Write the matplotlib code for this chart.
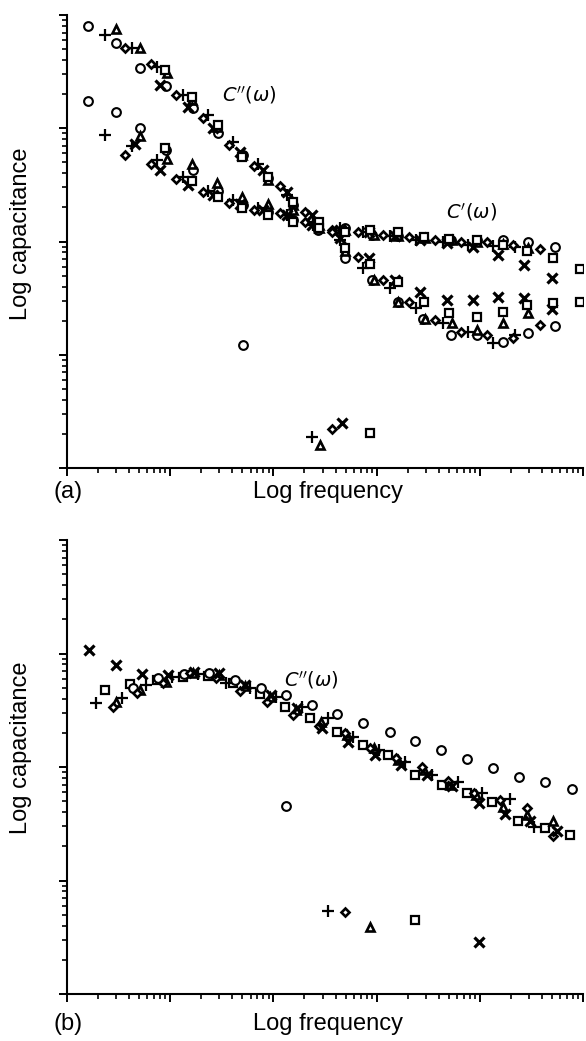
import numpy as np
import matplotlib
matplotlib.use('Agg')
import matplotlib.pyplot as plt
from matplotlib.ticker import LogLocator, NullFormatter

plt.rcParams['font.family'] = ['Liberation Sans', 'DejaVu Sans']
plt.rcParams['mathtext.fontset'] = 'dejavusans'

# ---- panel (a): log10 frequency / log10 capacitance, C'' (upper) and C' (lower) ----
a_circ_f = [0.20, 0.47, 0.71, 0.96, 1.22, 1.46, 1.71, 1.95, 2.19, 2.43, 2.69, 2.96, 3.21, 3.45, 3.72, 3.97, 4.22, 4.47, 4.73]
a_circ_c2 = [3.90, 3.75, 3.53, 3.37, 3.18, 2.96, 2.76, 2.56, 2.32, 2.10, 1.85, 1.66, 1.47, 1.32, 1.17, 1.17, 1.11, 1.19, 1.25]
a_circ_c1 = [3.24, 3.14, 3.00, 2.81, 2.63, 2.45, 2.32, 2.26, 2.19, 2.14, 2.12, 2.06, 2.05, 2.03, 2.01, 2.01, 2.01, 2.00, 1.95]

a_plus_f = [0.37, 0.63, 0.87, 1.12, 1.37, 1.61, 1.85, 2.13, 2.38, 2.65, 2.87, 3.13, 3.38, 3.64, 3.89, 4.13, 4.34]
a_plus_c2 = [3.82, 3.71, 3.54, 3.29, 3.12, 2.88, 2.68, 2.41, 2.17, 2.01, 1.77, 1.59, 1.41, 1.28, 1.20, 1.10, 1.17]
a_plus_c1 = [2.94, 2.84, 2.72, 2.57, 2.45, 2.37, 2.30, 2.23, 2.15, 2.12, 2.08, 2.05, 2.01, 2.00, 1.97, 1.96, 1.95]

a_tri_f = [0.47, 0.71, 0.97, 1.21, 1.45, 1.70, 1.95, 2.19, 2.44, 2.69, 2.97, 3.21, 3.47, 3.73, 3.97, 4.22, 4.47]
a_tri_c2 = [3.88, 3.71, 3.49, 3.25, 3.01, 2.76, 2.54, 2.32, 2.12, 1.92, 1.66, 1.47, 1.32, 1.28, 1.22, 1.28, 1.37]
a_tri_c1 = [None, 2.93, 2.73, 2.68, 2.52, 2.39, 2.33, 2.28, 2.15, 2.10, 2.06, 2.05, 2.03, 2.01, 2.00, 1.98, 1.94]

a_dia_f = [0.56, 0.81, 1.06, 1.32, 1.57, 1.81, 2.06, 2.31, 2.57, 2.82, 3.06, 3.31, 3.57, 3.82, 4.07, 4.32, 4.58]
a_dia_c2 = [3.71, 3.57, 3.29, 3.09, 2.85, 2.67, 2.49, 2.26, 2.10, 1.86, 1.66, 1.47, 1.31, 1.20, 1.17, 1.15, 1.26]
a_dia_c1 = [2.76, 2.68, 2.55, 2.44, 2.34, 2.28, 2.25, 2.17, 2.08, 2.08, 2.06, 2.04, 2.01, 2.00, 2.00, 1.97, 1.93]

a_x_f = [0.66, 0.90, 1.17, 1.41, 1.68, 1.90, 2.13, 2.37, 2.65, 2.93, 3.18, 3.42, 3.68, 3.93, 4.18, 4.43, 4.70]
a_x_c2 = [None, 3.38, 3.19, 3.00, 2.79, 2.63, 2.44, 2.23, 2.03, 1.85, 1.66, 1.55, 1.48, 1.48, 1.51, 1.50, 1.40]
a_x_c1 = [2.86, 2.63, 2.50, 2.41, 2.33, 2.28, 2.23, 2.15, 2.10, 2.08, 2.05, 2.01, 1.99, 1.95, 1.88, 1.79, 1.68]

a_sq_f = [0.95, 1.21, 1.46, 1.70, 1.95, 2.19, 2.44, 2.69, 2.94, 3.21, 3.46, 3.70, 3.97, 4.22, 4.46, 4.71, 4.97]
a_sq_c2 = [3.51, 3.28, 3.03, 2.75, 2.57, 2.35, 2.17, 1.94, 1.80, 1.64, 1.47, 1.37, 1.33, 1.38, 1.44, 1.46, 1.47]
a_sq_c1 = [2.83, 2.53, 2.39, 2.30, 2.23, 2.17, 2.12, 2.08, 2.10, 2.08, 2.04, 2.02, 2.01, 1.97, 1.92, 1.85, 1.76]

# stray low points in (a): o, +, triangle, diamond, x, square
a_stray_f = [1.71, 2.37, 2.45, 2.57, 2.66, 2.94]
a_stray_c = [1.09, 0.27, 0.20, 0.34, 0.40, 0.31]

# ---- panel (b): C'' only ----
b_circ_f = [0.64, 0.88, 1.13, 1.38, 1.63, 1.88, 2.12, 2.37, 2.62, 2.87, 3.13, 3.37, 3.62, 3.88, 4.13, 4.38, 4.63, 4.89]
b_circ_c = [2.70, 2.78, 2.82, 2.83, 2.77, 2.70, 2.63, 2.55, 2.47, 2.39, 2.31, 2.23, 2.15, 2.07, 1.99, 1.91, 1.87, 1.81]

b_plus_f = [0.28, 0.53, 0.77, 1.02, 1.27, 1.54, 1.77, 2.03, 2.28, 2.53, 2.77, 3.02, 3.28, 3.54, 3.79, 4.02, 4.29, 4.53]
b_plus_c = [2.56, 2.61, 2.72, 2.79, 2.82, 2.74, 2.70, 2.62, 2.53, 2.43, 2.26, 2.15, 2.04, 1.93, 1.87, 1.77, 1.72, 1.47]

b_tri_f = [0.47, 0.71, 0.96, 1.22, 1.47, 1.72, 1.97, 2.22, 2.46, 2.71, 2.97, 3.21, 3.46, 3.71, 3.96, 4.22, 4.46, 4.71]
b_tri_c = [2.57, 2.68, 2.75, 2.83, 2.81, 2.71, 2.62, 2.50, 2.40, 2.28, 2.17, 2.06, 1.97, 1.84, 1.75, 1.65, 1.58, 1.52]

b_dia_f = [0.45, 0.68, 0.93, 1.19, 1.44, 1.68, 1.94, 2.19, 2.44, 2.69, 2.94, 3.19, 3.44, 3.69, 3.94, 4.20, 4.46, 4.71]
b_dia_c = [2.53, 2.65, 2.74, 2.83, 2.78, 2.67, 2.57, 2.46, 2.36, 2.30, 2.17, 2.08, 2.00, 1.88, 1.77, 1.71, 1.64, 1.39]

b_x_f = [0.21, 0.47, 0.73, 0.98, 1.23, 1.47, 1.72, 1.98, 2.23, 2.47, 2.72, 2.98, 3.24, 3.49, 3.73, 3.99, 4.24, 4.49, 4.75]
b_x_c = [3.03, 2.90, 2.82, 2.81, 2.84, 2.83, 2.72, 2.63, 2.52, 2.34, 2.22, 2.11, 2.02, 1.93, 1.83, 1.68, 1.59, 1.52, 1.44]

b_sq_f = [0.37, 0.61, 0.87, 1.12, 1.37, 1.61, 1.87, 2.11, 2.35, 2.62, 2.87, 3.11, 3.37, 3.63, 3.88, 4.12, 4.37, 4.63, 4.87]
b_sq_c = [2.68, 2.73, 2.77, 2.79, 2.80, 2.74, 2.64, 2.53, 2.43, 2.31, 2.19, 2.11, 1.93, 1.84, 1.77, 1.69, 1.52, 1.46, 1.40]

# stray low points in (b): o, +, diamond, triangle, square, x
b_stray_f = [2.12, 2.53, 2.69, 2.94, 3.37, 3.99]
b_stray_c = [1.66, 0.73, 0.72, 0.59, 0.65, 0.46]

styles = {
    'o': dict(marker='o', ms=6.3, mew=1.5),
    '+': dict(marker='+', ms=8, mew=1.6),
    '^': dict(marker='^', ms=6, mew=1.9),
    'D': dict(marker='D', ms=4.5, mew=1.9),
    'x': dict(marker='x', ms=6.5, mew=2.3),
    's': dict(marker='s', ms=6.2, mew=1.6),
}


def pts(ax, f, c, m):
    f = np.array(f, dtype=float)
    c = np.array([np.nan if v is None else v for v in c], dtype=float)
    ax.plot(10 ** f, 10 ** c, linestyle='none', color='black', mfc='white',
            **styles[m])


def style_axes(ax):
    ax.set_xscale('log')
    ax.set_yscale('log')
    ax.set_xlim(1, 1e5)
    ax.set_ylim(1, 1e4)
    for s in ['top', 'right']:
        ax.spines[s].set_visible(False)
    for s in ['left', 'bottom']:
        ax.spines[s].set_linewidth(1.5)
    ax.xaxis.set_major_locator(LogLocator(base=10, numticks=10))
    ax.xaxis.set_minor_locator(LogLocator(base=10, subs=np.arange(2, 10), numticks=20))
    ax.yaxis.set_major_locator(LogLocator(base=10, numticks=10))
    ax.yaxis.set_minor_locator(LogLocator(base=10, subs=np.arange(2, 10), numticks=20))
    ax.xaxis.set_major_formatter(NullFormatter())
    ax.xaxis.set_minor_formatter(NullFormatter())
    ax.yaxis.set_major_formatter(NullFormatter())
    ax.yaxis.set_minor_formatter(NullFormatter())
    ax.tick_params(which='major', direction='out', length=6, width=1.4)
    ax.tick_params(which='minor', direction='out', length=3.5, width=1.2)
    ax.set_facecolor('none')


W, H = 586, 1041
fig = plt.figure(figsize=(W / 100, H / 100), dpi=100)


def px_axes(l, t, r, b):
    return fig.add_axes([l / W, 1 - b / H, (r - l) / W, (b - t) / H])


ax_a = px_axes(67, 15, 583, 468)
ax_b = px_axes(67, 540, 583, 994)
for ax in (ax_a, ax_b):
    style_axes(ax)
    ax.set_zorder(1)

# panel (a)
pts(ax_a, a_circ_f, a_circ_c2, 'o'); pts(ax_a, a_circ_f, a_circ_c1, 'o')
pts(ax_a, a_plus_f, a_plus_c2, '+'); pts(ax_a, a_plus_f, a_plus_c1, '+')
pts(ax_a, a_tri_f, a_tri_c2, '^'); pts(ax_a, a_tri_f, a_tri_c1, '^')
pts(ax_a, a_dia_f, a_dia_c2, 'D'); pts(ax_a, a_dia_f, a_dia_c1, 'D')
pts(ax_a, a_x_f, a_x_c2, 'x'); pts(ax_a, a_x_f, a_x_c1, 'x')
pts(ax_a, a_sq_f, a_sq_c2, 's'); pts(ax_a, a_sq_f, a_sq_c1, 's')
for f, c, m in zip(a_stray_f, a_stray_c, ['o', '+', '^', 'D', 'x', 's']):
    pts(ax_a, [f], [c], m)

# panel (b)
pts(ax_b, b_sq_f, b_sq_c, 's')
pts(ax_b, b_circ_f, b_circ_c, 'o')
pts(ax_b, b_tri_f, b_tri_c, '^')
pts(ax_b, b_dia_f, b_dia_c, 'D')
pts(ax_b, b_plus_f, b_plus_c, '+')
pts(ax_b, b_x_f, b_x_c, 'x')
for f, c, m in zip(b_stray_f, b_stray_c, ['o', '+', 'D', '^', 's', 'x']):
    pts(ax_b, [f], [c], m)

# curve labels
fig.text(249 / W, 1 - 95 / H, r"$C''(\omega)$", fontsize=14, ha='center', va='center')
fig.text(472 / W, 1 - 212 / H, r"$C'(\omega)$", fontsize=14, ha='center', va='center')
fig.text(311 / W, 1 - 680 / H, r"$C''(\omega)$", fontsize=14, ha='center', va='center')

# axis titles
fs = 17
fig.text(21 / W, 1 - 234 / H, 'Log capacitance', rotation=90, fontsize=fs,
         ha='center', va='center')
fig.text(21 / W, 1 - 748 / H, 'Log capacitance', rotation=90, fontsize=fs,
         ha='center', va='center')
fig.text(328 / W, 1 - 498 / H, 'Log frequency', fontsize=fs, ha='center', va='baseline')
fig.text(328 / W, 1 - 1030 / H, 'Log frequency', fontsize=fs, ha='center', va='baseline')
fig.text(68 / W, 1 - 498 / H, '(a)', fontsize=fs, ha='center', va='baseline')
fig.text(68 / W, 1 - 1030 / H, '(b)', fontsize=fs, ha='center', va='baseline')

plt.savefig('out.png', dpi=100, facecolor='white')
